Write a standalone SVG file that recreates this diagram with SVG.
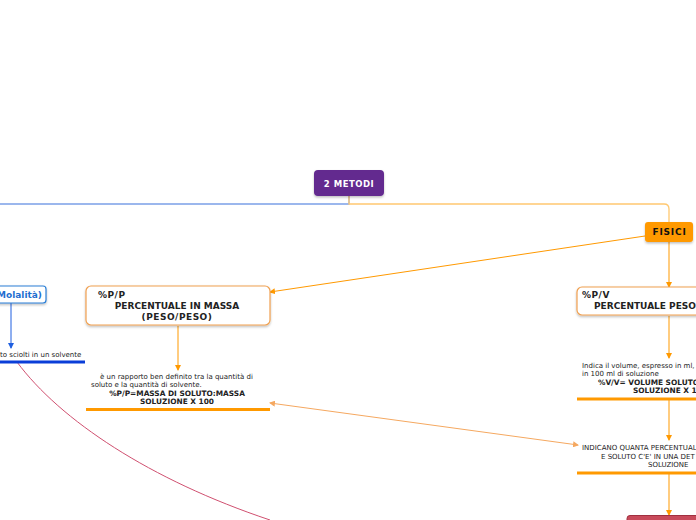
<svg xmlns="http://www.w3.org/2000/svg" width="696" height="520" viewBox="0 0 696 520">
<defs>
<marker id="ao" markerWidth="6" markerHeight="6" refX="5" refY="3" orient="auto" markerUnits="userSpaceOnUse"><path d="M0,0 L6,3 L0,6 Z" fill="#ff9900"/></marker>
<marker id="ao2" markerWidth="6" markerHeight="6" refX="5" refY="3" orient="auto-start-reverse" markerUnits="userSpaceOnUse"><path d="M0,0 L6,3 L0,6 Z" fill="#f5a860"/></marker>
<marker id="ab" markerWidth="6" markerHeight="6" refX="5" refY="3" orient="auto" markerUnits="userSpaceOnUse"><path d="M0,0 L6,3 L0,6 Z" fill="#1f5fe0"/></marker>
<filter id="sh" x="-10%" y="-10%" width="120%" height="130%"><feDropShadow dx="0" dy="1.5" stdDeviation="0.8" flood-color="#000" flood-opacity="0.25"/></filter>
</defs>
<style>
text{font-family:"DejaVu Sans","Liberation Sans",sans-serif;fill:#222}
.b{font-weight:bold}
.t9{font-size:9px}
.t7{font-size:7px}
.tb{font-size:7.4px;font-weight:bold}
.ol{stroke:#ff9900;stroke-width:1;fill:none}
.uo{stroke:#ff9900;stroke-width:3}
</style>
<rect width="696" height="520" fill="#fff"/>
<g id="connectors">
<path d="M349,196 V204 H0" stroke="#7ba0e8" stroke-width="1.3" fill="none"/>
<path d="M349,196 V204 H664 Q669,204 669,209 V222" stroke="#ffc870" stroke-width="1.3" fill="none"/>
<path d="M645,236 L270,292" class="ol" marker-end="url(#ao)"/>
<path d="M669,242 V287" class="ol" marker-end="url(#ao)"/>
<path d="M11,303 V348" stroke="#1f5fe0" stroke-width="1" fill="none" marker-end="url(#ab)"/>
<path d="M17,362 C60,420 150,480 270,520" stroke="#d05070" stroke-width="1" fill="none"/>
<path d="M178,326 V370" class="ol" marker-end="url(#ao)"/>
<path d="M270,403 L578,445" stroke="#f5a860" stroke-width="1" fill="none" marker-start="url(#ao2)" marker-end="url(#ao2)"/>
<path d="M669,316 V358" class="ol" marker-end="url(#ao)"/>
<path d="M669,400 V440" class="ol" marker-end="url(#ao)"/>
<path d="M669,474 V515" class="ol" marker-end="url(#ao)"/>
</g>
<g id="metodi">
<rect x="314" y="170" width="70" height="26" rx="4" fill="#63298f" filter="url(#sh)"/>
<text x="349" y="187" text-anchor="middle" class="b" font-size="8.5" letter-spacing="0.5" style="fill:#fff">2 METODI</text>
</g>
<g id="fisici">
<rect x="645" y="222" width="48" height="20" rx="3" fill="#ff9900" filter="url(#sh)"/>
<text x="669.5" y="235" text-anchor="middle" class="b" font-size="9" letter-spacing="0.8" style="fill:#111">FISICI</text>
</g>
<g id="molalita">
<rect x="-10" y="286" width="56" height="17" rx="3" fill="#fff" stroke="#2b7fd6" stroke-width="1.2" filter="url(#sh)"/>
<text x="42" y="298" text-anchor="end" class="b t9" style="fill:#1f6fd0">Molalità)</text>
<text x="0" y="357" class="t7">to sciolti in un solvente</text>
<line x1="0" y1="362" x2="85" y2="362" stroke="#0a3ed8" stroke-width="3"/>
</g>
<g id="pp">
<rect x="86" y="286" width="184" height="39" rx="5" fill="#fff" stroke="#f0a050" stroke-width="1.2" filter="url(#sh)"/>
<text x="98" y="298" class="b t9" letter-spacing="0.5">%P/P</text>
<text x="177" y="309" text-anchor="middle" class="b t9">PERCENTUALE IN MASSA</text>
<text x="177" y="320" text-anchor="middle" class="b t9" letter-spacing="0.5">(PESO/PESO)</text>
</g>
<g id="pp-text">
<text x="100" y="379" class="t7">è un rapporto ben definito tra la quantità di</text>
<text x="91" y="387" class="t7">soluto e la quantità di solvente.</text>
<text x="177" y="396" text-anchor="middle" class="tb">%P/P=MASSA DI SOLUTO:MASSA</text>
<text x="177" y="404" text-anchor="middle" class="tb">SOLUZIONE X 100</text>
<line x1="86" y1="409.5" x2="270" y2="409.5" class="uo"/>
</g>
<g id="pv">
<rect x="577" y="287" width="130" height="28" rx="5" fill="#fff" stroke="#f0a050" stroke-width="1.2" filter="url(#sh)"/>
<text x="582" y="298" class="b t9" letter-spacing="0.5">%P/V</text>
<text x="594" y="309" class="b t9">PERCENTUALE PESO</text>
</g>
<g id="pv-text">
<text x="582" y="368" class="t7">Indica il volume, espresso in ml,</text>
<text x="582" y="376" class="t7">in 100 ml di soluzione</text>
<text x="598" y="385" class="tb">%V/V= VOLUME SOLUTO</text>
<text x="633" y="393" class="tb">SOLUZIONE X 100</text>
<line x1="577" y1="399" x2="700" y2="399" class="uo"/>
</g>
<g id="indicano">
<text x="582" y="450" class="t7">INDICANO QUANTA PERCENTUALE</text>
<text x="601" y="459" class="t7">E SOLUTO C'E' IN UNA DET</text>
<text x="648" y="467" class="t7">SOLUZIONE</text>
<line x1="577" y1="473" x2="700" y2="473" class="uo"/>
</g>
<g id="red">
<rect x="627" y="515.5" width="80" height="12" rx="3" fill="#c84a5a" stroke="#a03040" stroke-width="1"/>
</g>
</svg>
